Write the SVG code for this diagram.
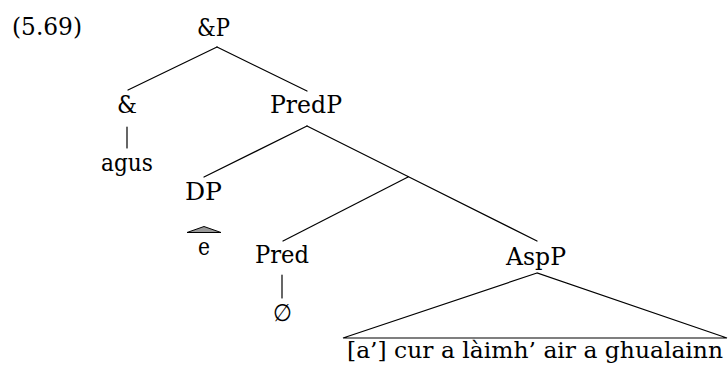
<svg xmlns="http://www.w3.org/2000/svg" width="728" height="366" viewBox="0 0 728 366">
<style>
text{font-family:"DejaVu Serif","Liberation Serif",serif;font-size:24px;fill:#000;text-anchor:middle}
.e{stroke:#000;stroke-width:1.2;fill:none;stroke-linecap:round}
</style>
<rect width="728" height="366" fill="#fff"/>
<text x="47" y="35" textLength="70" lengthAdjust="spacingAndGlyphs">(5.69)</text>
<g id="connectors">
<line class="e" x1="217" y1="47" x2="128" y2="90"/>
<line class="e" x1="217" y1="47" x2="307" y2="91"/>
<line class="e" x1="127" y1="127" x2="127" y2="148"/>
<line class="e" x1="307" y1="126" x2="204" y2="177"/>
<line class="e" x1="307" y1="126" x2="408" y2="176.5"/>
<line class="e" x1="408" y1="176.5" x2="537" y2="241"/>
<line class="e" x1="408" y1="177" x2="283" y2="241"/>
<line class="e" x1="282" y1="275" x2="282" y2="298"/>
<polygon class="e" points="537,273 343,338 727,338"/>
<polygon points="187,232.5 204,226.5 221,232.5" fill="#999" stroke="#000" stroke-width="1" stroke-linejoin="round"/>
</g>
<g id="andP"><text x="213.5" y="36" textLength="33" lengthAdjust="spacingAndGlyphs">&amp;P</text></g>
<g id="and"><text x="127" y="113" textLength="20" lengthAdjust="spacingAndGlyphs">&amp;</text></g>
<g id="agus"><text x="127" y="171" textLength="52" lengthAdjust="spacingAndGlyphs">agus</text></g>
<g id="PredP"><text x="306" y="113" textLength="72" lengthAdjust="spacingAndGlyphs">PredP</text></g>
<g id="DP"><text x="203.5" y="200" textLength="37" lengthAdjust="spacingAndGlyphs">DP</text></g>
<g id="e"><text x="204" y="255" textLength="12" lengthAdjust="spacingAndGlyphs">e</text></g>
<g id="Pred"><text x="282" y="263" textLength="54" lengthAdjust="spacingAndGlyphs">Pred</text></g>
<g id="null"><text x="282" y="321" textLength="19" lengthAdjust="spacingAndGlyphs">∅</text></g>
<g id="AspP"><text x="536" y="265" textLength="60" lengthAdjust="spacingAndGlyphs">AspP</text></g>
<g id="AspP-yield"><text x="535" y="358" style="font-size:22px" textLength="376" lengthAdjust="spacingAndGlyphs">[a’] cur a làimh’ air a ghualainn</text></g>
</svg>
